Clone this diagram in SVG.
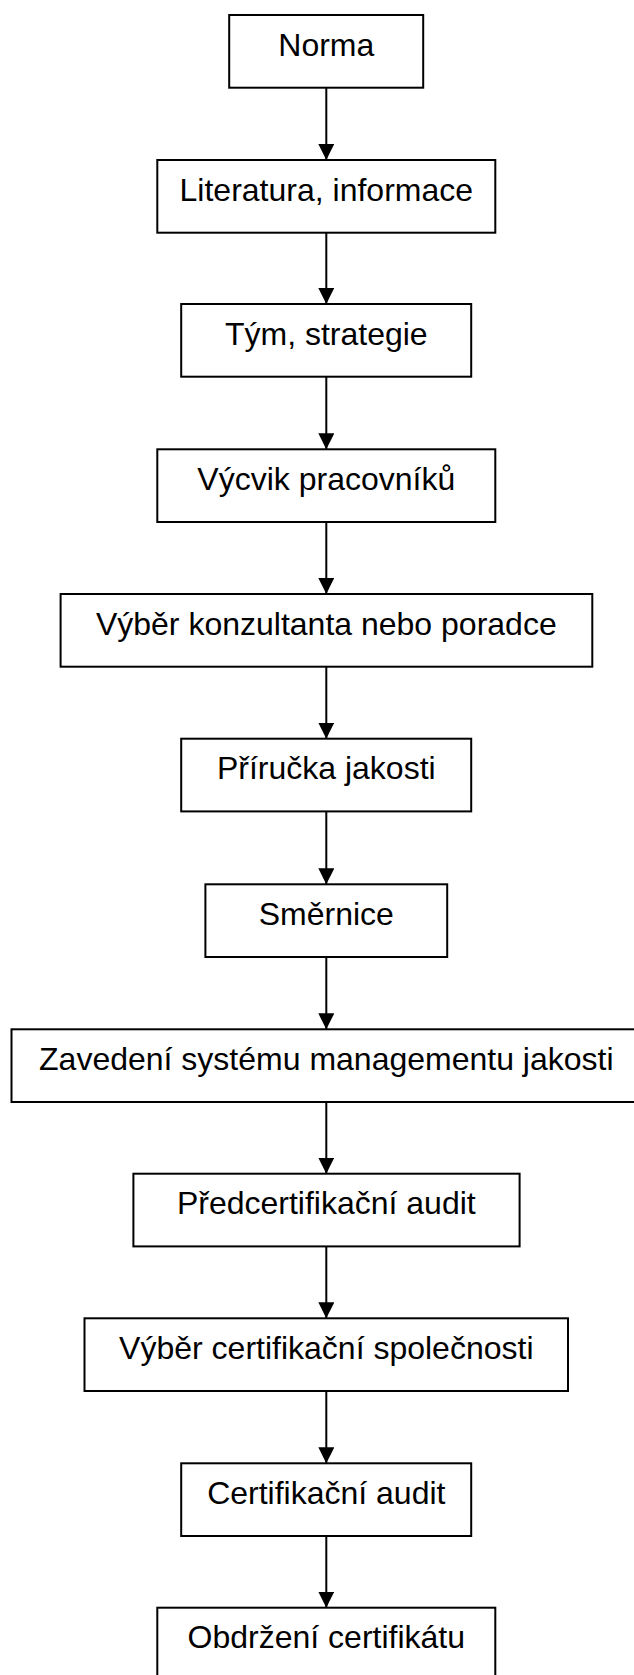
<svg xmlns="http://www.w3.org/2000/svg" width="634" height="1675" viewBox="0 0 634 1675">
  <style>
    .box { fill: #ffffff; stroke: #000000; stroke-width: 2; }
    .label { font-family: "Liberation Sans", Arial, sans-serif; font-size: 32px; fill: #000000; text-anchor: middle; }
    .link { stroke: #000000; stroke-width: 2; fill: none; marker-end: url(#arrow); }
  </style>
  <defs>
    <marker id="arrow" viewBox="0 0 16 16" refX="16" refY="8" markerWidth="16" markerHeight="16" markerUnits="userSpaceOnUse" orient="auto">
      <path d="M0,0 L16,8 L0,16 Z" fill="#000000"/>
    </marker>
  </defs>
  <rect width="634" height="1675" fill="#ffffff"/>

  <g id="connectors">
    <line class="link" x1="326.3" y1="87.7" x2="326.3" y2="160"/>
    <line class="link" x1="326.3" y1="232.7" x2="326.3" y2="304"/>
    <line class="link" x1="326.3" y1="376.7" x2="326.3" y2="449.3"/>
    <line class="link" x1="326.3" y1="522" x2="326.3" y2="594"/>
    <line class="link" x1="326.3" y1="666.7" x2="326.3" y2="738.7"/>
    <line class="link" x1="326.3" y1="811.4" x2="326.3" y2="884.3"/>
    <line class="link" x1="326.3" y1="957" x2="326.3" y2="1029.3"/>
    <line class="link" x1="326.3" y1="1102" x2="326.3" y2="1173.7"/>
    <line class="link" x1="326.3" y1="1246.4" x2="326.3" y2="1318.3"/>
    <line class="link" x1="326.3" y1="1391" x2="326.3" y2="1463.3"/>
    <line class="link" x1="326.3" y1="1536" x2="326.3" y2="1607.7"/>
  </g>

  <g id="norma">
    <rect class="box" x="229.2" y="15" width="194" height="72.7"/>
    <text class="label" x="326.3" y="55.5">Norma</text>
  </g>
  <g id="literatura">
    <rect class="box" x="157.3" y="160" width="338" height="72.7"/>
    <text class="label" x="326.3" y="200.5">Literatura, informace</text>
  </g>
  <g id="tym">
    <rect class="box" x="181.2" y="304" width="290" height="72.7"/>
    <text class="label" x="326.3" y="344.5">Tým, strategie</text>
  </g>
  <g id="vycvik">
    <rect class="box" x="157.3" y="449.3" width="338" height="72.7"/>
    <text class="label" x="326.3" y="489.8">Výcvik pracovníků</text>
  </g>
  <g id="konzultant">
    <rect class="box" x="60.6" y="594" width="531.7" height="72.7"/>
    <text class="label" x="326.3" y="634.5">Výběr konzultanta nebo poradce</text>
  </g>
  <g id="prirucka">
    <rect class="box" x="181.2" y="738.7" width="290" height="72.7"/>
    <text class="label" x="326.3" y="779.2">Příručka jakosti</text>
  </g>
  <g id="smernice">
    <rect class="box" x="205.4" y="884.3" width="241.8" height="72.7"/>
    <text class="label" x="326.3" y="924.8">Směrnice</text>
  </g>
  <g id="zavedeni">
    <rect class="box" x="11.5" y="1029.3" width="630" height="72.7"/>
    <text class="label" x="326.3" y="1069.8">Zavedení systému managementu jakosti</text>
  </g>
  <g id="predcertifikacni">
    <rect class="box" x="133.4" y="1173.7" width="386.2" height="72.7"/>
    <text class="label" x="326.3" y="1214.2">Předcertifikační audit</text>
  </g>
  <g id="vyber-spolecnosti">
    <rect class="box" x="84.5" y="1318.3" width="483.5" height="72.7"/>
    <text class="label" x="326.3" y="1358.8">Výběr certifikační společnosti</text>
  </g>
  <g id="certifikacni-audit">
    <rect class="box" x="181.2" y="1463.3" width="290" height="72.7"/>
    <text class="label" x="326.3" y="1503.8">Certifikační audit</text>
  </g>
  <g id="certifikat">
    <rect class="box" x="157.3" y="1607.7" width="338" height="80"/>
    <text class="label" x="326.3" y="1648.2">Obdržení certifikátu</text>
  </g>
</svg>
